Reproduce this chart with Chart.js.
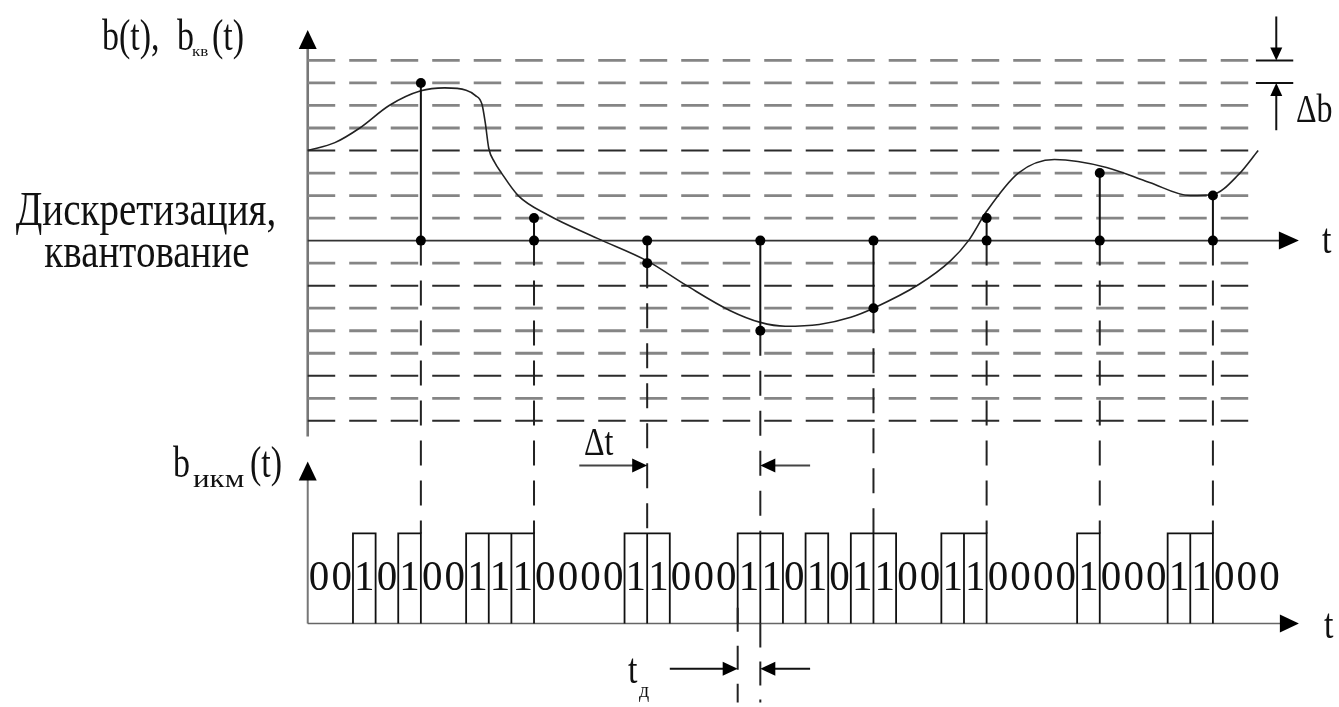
<!DOCTYPE html>
<html>
<head>
<meta charset="utf-8">
<script src="https://cdn.jsdelivr.net/npm/chart.js@4/dist/chart.umd.min.js"></script>
<style>
  html, body { margin: 0; background: #fff; }
  canvas { display: block; }
  #fontWarm { position: absolute; left: -9999px; top: 0; font: 36px "Liberation Serif"; }
</style>
</head>
<body>
<span id="fontWarm">b(t) Дискретизация Δ 0123</span>
<canvas id="pcmChart" width="1339" height="707"></canvas>
<script>
// x: time in code bits (t_д), one sample every 5 bits; y: level in steps of Δb
const levels = [-8, -7, -6, -5, -4, -3, -2, -1, 1, 2, 3, 4, 5, 6, 7, 8];
const darkLevels = [4, -2, -6, -8];

// analog signal b(t)
const curveT = [0, 1.2, 2.3, 3.6, 5.0, 6.05, 7.0, 7.4, 7.7, 7.85, 8.0, 8.25, 8.55, 9.3, 10.6, 12.8, 15.0, 16.75, 18.65,
  20.0, 21.1, 22.6, 24.0, 25.0, 27.0, 28.4, 29.2, 30.0, 31.4, 33.0, 35.3, 37.2, 39.0, 40.0, 41.15, 42.0];
const curveB = [4.0, 4.35, 5.0, 6.0, 6.65, 6.78, 6.68, 6.45, 6.05, 5.2, 4.1, 3.5, 3.02, 2.0, 1.15, 0.1, -0.9, -2.0, -3.1,
  -3.63, -3.8, -3.72, -3.4, -3.0, -1.95, -0.9, 0.0, 1.3, 3.0, 3.6, 3.25, 2.58, 2.0, 2.05, 2.95, 4.0];

// samples and their quantized levels
const sampleT = [5, 10, 15, 20, 25, 30, 35, 40];
const sampleQ = [7, 1, -1, -4, -3, 1, 3, 2];

// PCM bit stream
const pcmBits = [0, 0, 1, 0, 1, 0, 0, 1, 1, 1, 0, 0, 0, 0, 1, 1, 0, 0, 0, 1, 1, 0, 1, 0, 1,
  1, 0, 0, 1, 1, 0, 0, 0, 0, 1, 0, 0, 0, 1, 1, 0, 0, 0];

const LEVEL_END = 42;
const PCM_BASE = -17;
const PCM_TOP = -13;
const FONT = '"Liberation Serif", "DejaVu Serif", serif';

const txt = (ctx, s, x, y, size, align = 'left', sy = 1.25) => {
  ctx.save();
  ctx.translate(x, y);
  ctx.scale(1, sy);
  ctx.font = size + 'px ' + FONT;
  ctx.textAlign = align;
  ctx.textBaseline = 'alphabetic';
  ctx.fillStyle = '#111';
  ctx.fillText(s, 0, 0);
  ctx.restore();
};

const arrow = (ctx, x1, y1, x2, y2, len, half, width = 2, color = '#111') => {
  const a = Math.atan2(y2 - y1, x2 - x1);
  ctx.save();
  ctx.strokeStyle = color;
  ctx.fillStyle = '#000';
  ctx.lineWidth = width;
  ctx.beginPath();
  ctx.moveTo(x1, y1);
  ctx.lineTo(x2 - Math.cos(a) * len * 0.6, y2 - Math.sin(a) * len * 0.6);
  ctx.stroke();
  ctx.translate(x2, y2);
  ctx.rotate(a);
  ctx.beginPath();
  ctx.moveTo(0, 0);
  ctx.lineTo(-len, -half);
  ctx.lineTo(-len, half);
  ctx.closePath();
  ctx.fill();
  ctx.restore();
};

const line = (ctx, x1, y1, x2, y2, width, color, dash) => {
  ctx.save();
  ctx.strokeStyle = color;
  ctx.lineWidth = width;
  ctx.setLineDash(dash || []);
  ctx.beginPath();
  ctx.moveTo(x1, y1);
  ctx.lineTo(x2, y2);
  ctx.stroke();
  ctx.restore();
};

// axes, arrows and labels
const decorPlugin = {
  id: 'decor',
  beforeDatasetsDraw(chart) {
    const ctx = chart.ctx;
    const X = v => chart.scales.x.getPixelForValue(v);
    const Y = v => chart.scales.y.getPixelForValue(v);
    // top panel axes
    line(ctx, X(0), Y(-8.7), X(0), Y(8.6), 2.6, '#777');
    arrow(ctx, X(0), Y(8.6), X(0), Y(9.35), 19, 9, 2.6, '#777');
    line(ctx, X(0), Y(0), X(43), Y(0), 1.6, '#333');
    arrow(ctx, X(43), Y(0), X(43.8), Y(0), 20, 9, 1.6, '#333');
    // bottom panel axes
    line(ctx, X(0), Y(PCM_BASE), X(0), Y(-10.6), 2, '#777');
    arrow(ctx, X(0), Y(-10.6), X(0), Y(-9.8), 19, 9, 2, '#777');
    line(ctx, X(0), Y(PCM_BASE), X(43), Y(PCM_BASE), 1.5, '#666');
    arrow(ctx, X(43), Y(PCM_BASE), X(43.8), Y(PCM_BASE), 19, 9, 1.5, '#666');
  },
  afterDatasetsDraw(chart) {
    const ctx = chart.ctx;
    const X = v => chart.scales.x.getPixelForValue(v);
    const Y = v => chart.scales.y.getPixelForValue(v);

    // Δb marker
    line(ctx, X(41.9), Y(8), X(43.55), Y(8), 2, '#111');
    line(ctx, X(41.9), Y(7), X(43.55), Y(7), 2, '#111');
    arrow(ctx, X(42.8), Y(9.95), X(42.8), Y(8), 13, 6, 2);
    arrow(ctx, X(42.8), Y(4.9), X(42.8), Y(7), 13, 6, 2);
    txt(ctx, 'Δb', 1296, 122, 32, 'left', 1.23);

    // Δt marker
    arrow(ctx, X(12), Y(-9.98), X(15), Y(-9.98), 15, 7, 2, '#444');
    arrow(ctx, X(22.2), Y(-9.98), X(20), Y(-9.98), 15, 7, 2, '#444');
    txt(ctx, 'Δt', 584, 455, 32, 'left', 1.23);

    // t_д marker
    line(ctx, X(19), Y(-16.3), X(19), Y(-20.5), 2, '#222', [24, 14]);
    line(ctx, X(20), Y(-17), X(20), Y(-20.5), 2, '#222', [24, 14]);
    arrow(ctx, X(16), Y(-19), X(19), Y(-19), 15, 7, 2);
    arrow(ctx, X(22.2), Y(-19), X(20), Y(-19), 15, 7, 2);
    txt(ctx, 't', 628, 683, 34);
    txt(ctx, 'д', 639, 697, 20, 'left', 1.0);

    // axis names
    txt(ctx, 't', 1322, 253, 34);
    txt(ctx, 't', 1324, 638, 34);
    txt(ctx, 'b(t),', 102, 50, 34, 'left', 1.3);
    txt(ctx, 'b', 177, 50, 34, 'left', 1.3);
    txt(ctx, 'кв', 192, 56, 17, 'left', 0.8);
    txt(ctx, '(t)', 212, 50, 34, 'left', 1.3);
    txt(ctx, 'Дискретизация,', 146, 225, 39, 'center', 1.27);
    txt(ctx, 'квантование', 147, 267, 39, 'center', 1.27);
    txt(ctx, 'b', 173, 477, 34, 'left', 1.3);
    txt(ctx, 'икм', 193, 487, 31, 'left', 0.82);
    txt(ctx, '(t)', 250, 477, 34, 'left', 1.3);

    // code digits
    pcmBits.forEach((b, i) => txt(ctx, String(b), X(i + 0.5), Y(-15.5), 41, 'center', 1.02));
  }
};

const levelSets = levels.map(L => ({
  data: [{ x: 0, y: L }, { x: LEVEL_END, y: L }],
  borderColor: darkLevels.includes(L) ? '#2b2b2b' : '#858585',
  borderWidth: darkLevels.includes(L) ? 2 : 2.8,
  borderDash: [27.5, 14],
  pointRadius: 0,
  showLine: true,
  order: 5
}));

const datasets = [
  ...levelSets,
  {
    label: 'b(t)',
    data: curveT.map((t, i) => ({ x: t, y: curveB[i] })),
    borderColor: '#222',
    borderWidth: 1.6,
    cubicInterpolationMode: 'monotone',
    pointRadius: 0,
    showLine: true,
    order: 2
  },
  {
    label: 'drops',
    data: sampleT.flatMap((t, i) => [{ x: t, y: Math.min(0, sampleQ[i]) }, { x: t, y: PCM_TOP }, { x: t, y: null }]),
    borderColor: '#222',
    borderWidth: 2,
    borderDash: [25, 15],
    pointRadius: 0,
    showLine: true,
    order: 4
  },
  {
    label: 'b_кв',
    data: sampleT.flatMap((t, i) => [{ x: t, y: 0 }, { x: t, y: sampleQ[i] }, { x: t, y: null }]),
    borderColor: '#111',
    borderWidth: 2,
    pointRadius: 5,
    pointBorderWidth: 0,
    pointBackgroundColor: '#000',
    showLine: true,
    order: 1
  },
  {
    label: 'b_ИКМ',
    data: pcmBits.flatMap((b, i) => b ? [
      { x: i, y: PCM_BASE }, { x: i, y: PCM_TOP }, { x: i + 1, y: PCM_TOP }, { x: i + 1, y: PCM_BASE }, { x: i, y: null }
    ] : []),
    borderColor: '#111',
    borderWidth: 1.8,
    pointRadius: 0,
    showLine: true,
    order: 3
  }
];

const drawChart = () => new Chart(document.getElementById('pcmChart'), {
  type: 'scatter',
  data: { datasets },
  options: {
    responsive: false,
    animation: false,
    events: [],
    layout: { padding: 0 },
    plugins: { legend: { display: false }, tooltip: { enabled: false } },
    scales: {
      x: { type: 'linear', display: false, min: -305 / 22.8, max: (1339 - 305) / 22.8 },
      y: { type: 'linear', display: false, min: 239 / 22.85 - 707 / 22.85, max: 239 / 22.85 }
    }
  },
  plugins: [decorPlugin]
});

document.fonts.load('36px "Liberation Serif"', 'bДк0')
  .then(() => document.fonts.ready)
  .catch(() => null)
  .then(drawChart);
</script>
</body>
</html>
